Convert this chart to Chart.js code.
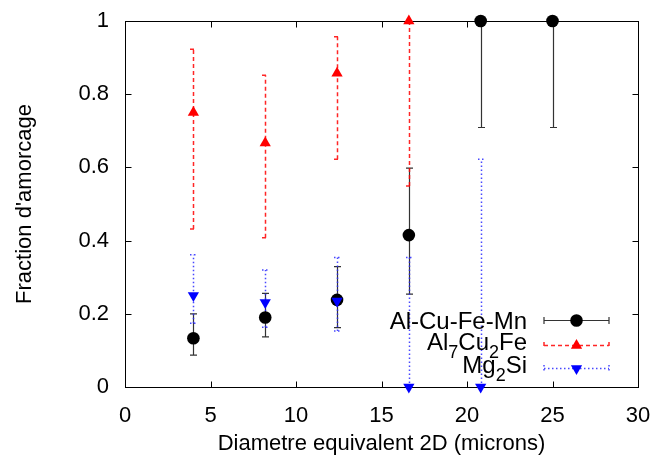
<!DOCTYPE html>
<html><head><meta charset="utf-8">
<script src="https://cdn.jsdelivr.net/npm/chart.js@4/dist/chart.umd.min.js"></script>
<style>html,body{margin:0;padding:0;background:#fff}#wrap{width:654px;height:462px}</style>
</head><body><div id="wrap"><canvas id="c" width="654" height="462"></canvas></div>
<script>
// ---- data ----
const xTickValues = [0, 5, 10, 15, 20, 25, 30];
const xTickLabels = ['0', '5', '10', '15', '20', '25', '30'];
const yTickValues = [0, 0.2, 0.4, 0.6, 0.8, 1];
const yTickLabels = ['0', '0.2', '0.4', '0.6', '0.8', '1'];
const xTitle = 'Diametre equivalent 2D (microns)';
const yTitle = "Fraction d'amorcage";
const seriesNames = ['Al-Cu-Fe-Mn', 'Al_7Cu_2Fe', 'Mg_2Si'];

const mnDiam = [4, 8.2, 12.4, 16.6, 20.8, 25];
const mnFrac = [0.133, 0.19, 0.238, 0.415, 1, 1];
const mnLow  = [0.087, 0.137, 0.162, 0.254, 0.709, 0.709];
const mnHigh = [0.2, 0.256, 0.329, 0.598, 1, 1];

const cuDiam = [4, 8.2, 12.4, 16.6];
const cuFrac = [0.75, 0.667, 0.857, 1];
const cuLow  = [0.432, 0.408, 0.622, 0.549];
const cuHigh = [0.923, 0.852, 0.957, 1];

const mgDiam = [4, 8.2, 12.4, 16.6, 20.8];
const mgFrac = [0.25, 0.231, 0.235, 0, 0];
const mgLow  = [0.174, 0.163, 0.153, 0, 0];
const mgHigh = [0.361, 0.32, 0.354, 0.354, 0.622];

// ---- chart ----
const FONT = "'Liberation Sans', Arial, sans-serif";
const toPts = (xs, ys) => xs.map((v, i) => ({x: v, y: ys[i]}));

const datasets = [
  {label: seriesNames[0], data: toPts(mnDiam, mnFrac), errLow: mnLow, errHigh: mnHigh,
   pointStyle: 'circle', pointRadius: 6.3, backgroundColor: '#000000', borderColor: '#000000', borderWidth: 0,
   errColor: '#333333', errWidth: 1.2, errDash: [], order: 3},
  {label: seriesNames[1], data: toPts(cuDiam, cuFrac), errLow: cuLow, errHigh: cuHigh,
   pointStyle: 'triangle', pointRadius: 6.5, backgroundColor: '#ff0000', borderColor: '#ff0000', borderWidth: 0,
   errColor: 'rgba(255,0,0,0.85)', errWidth: 1.5, errDash: [4, 3], order: 2},
  {label: seriesNames[2], data: toPts(mgDiam, mgFrac), errLow: mgLow, errHigh: mgHigh,
   pointStyle: 'triangle', rotation: 180, pointRadius: 6.5, backgroundColor: '#0000ff', borderColor: '#0000ff', borderWidth: 0,
   errColor: 'rgba(40,40,255,0.85)', errWidth: 1.5, errDash: [1.5, 2.5], order: 1}
];
datasets.forEach(d => { d.showLine = false; d.clip = false; d.pointHoverRadius = d.pointRadius; });

const CAP = 3.5;
function drawErr(ctx, px, yl, yh, cap) {
  ctx.beginPath();
  ctx.moveTo(px, yl); ctx.lineTo(px, yh);
  ctx.moveTo(px - cap, yl); ctx.lineTo(px + cap, yl);
  ctx.moveTo(px - cap, yh); ctx.lineTo(px + cap, yh);
  ctx.stroke();
}

const framePlugin = {
  id: 'frameAndErrors',
  beforeDatasetsDraw(chart) {
    const {ctx, chartArea: a, scales: {x, y}} = chart;
    ctx.save();
    ctx.strokeStyle = '#000'; ctx.lineWidth = 1; ctx.setLineDash([]);
    const L = Math.round(a.left) + 0.5, R = Math.round(a.right) + 0.5;
    const T = Math.round(a.top) + 0.5, B = Math.round(a.bottom) + 0.5;
    ctx.strokeRect(L, T, R - L, B - T);
    const TL = 6;
    ctx.beginPath();
    xTickValues.forEach(v => {
      const px = Math.round(x.getPixelForValue(v)) + 0.5;
      ctx.moveTo(px, B); ctx.lineTo(px, B - TL);
      ctx.moveTo(px, T); ctx.lineTo(px, T + TL);
    });
    yTickValues.forEach(v => {
      const py = Math.round(y.getPixelForValue(v)) + 0.5;
      ctx.moveTo(L, py); ctx.lineTo(L + TL, py);
      ctx.moveTo(R, py); ctx.lineTo(R - TL, py);
    });
    ctx.stroke();
    chart.data.datasets.forEach(ds => {
      ctx.strokeStyle = ds.errColor; ctx.setLineDash(ds.errDash); ctx.lineWidth = ds.errWidth;
      ds.data.forEach((p, i) => {
        const px = Math.round(x.getPixelForValue(p.x)) + 0.5;
        drawErr(ctx, px, y.getPixelForValue(ds.errLow[i]), y.getPixelForValue(ds.errHigh[i]), CAP);
      });
    });
    ctx.restore();
  },
  afterDraw(chart) {
    const {ctx, chartArea: a} = chart;
    ctx.save();
    const textRight = a.right - 111;
    const lineL = a.right - 94, lineR = a.right - 29, markX = (lineL + lineR) / 2;
    const rows = [a.top + 299, a.top + 324, a.top + 347];
    const baseOff = [9, 5, 4.6];
    const mainF = '24px ' + FONT, subF = '18px ' + FONT;
    chart.data.datasets.forEach((ds, i) => {
      const parts = [];
      const re = /_(\d)/g; let last = 0, m;
      const s = ds.label;
      while ((m = re.exec(s)) !== null) {
        if (m.index > last) parts.push([s.slice(last, m.index), 0]);
        parts.push([m[1], 1]); last = m.index + m[0].length;
      }
      if (last < s.length) parts.push([s.slice(last), 0]);
      let w = 0;
      parts.forEach(p => { ctx.font = p[1] ? subF : mainF; w += ctx.measureText(p[0]).width; });
      let cx = textRight - w;
      const base = rows[i] + baseOff[i];
      ctx.fillStyle = '#000'; ctx.textBaseline = 'alphabetic'; ctx.textAlign = 'left';
      parts.forEach(p => {
        ctx.font = p[1] ? subF : mainF;
        ctx.fillText(p[0], cx, p[1] ? base + 8 : base);
        cx += ctx.measureText(p[0]).width;
      });
      const ry = Math.round(rows[i]) + 0.5;
      ctx.strokeStyle = ds.errColor; ctx.setLineDash(ds.errDash); ctx.lineWidth = ds.errWidth;
      ctx.beginPath();
      ctx.moveTo(lineL, ry); ctx.lineTo(lineR, ry);
      ctx.moveTo(lineL, ry - CAP); ctx.lineTo(lineL, ry + CAP);
      ctx.moveTo(lineR, ry - CAP); ctx.lineTo(lineR, ry + CAP);
      ctx.stroke();
      ctx.setLineDash([]);
      ctx.fillStyle = ds.backgroundColor;
      ctx.strokeStyle = ds.borderColor;
      Chart.helpers.drawPoint(ctx, {pointStyle: ds.pointStyle, rotation: ds.rotation || 0,
        radius: ds.pointRadius, borderWidth: 0}, markX, ry);
    });
    ctx.restore();
  }
};

new Chart(document.getElementById('c'), {
  type: 'scatter',
  data: {datasets},
  options: {
    responsive: false, animation: false, devicePixelRatio: 1,
    layout: {padding: {top: 21, right: 16, left: 0, bottom: 0}},
    plugins: {legend: {display: false}, tooltip: {enabled: false}},
    scales: {
      x: {type: 'linear', min: 0, max: 30,
          afterBuildTicks: s => { s.ticks = xTickValues.map(v => ({value: v})); },
          afterFit: s => { s.height = 75; s.paddingLeft = 0; s.paddingRight = 0; },
          grid: {display: false, drawTicks: false}, border: {display: false},
          ticks: {color: '#000', font: {family: FONT, size: 22}, padding: 16, maxRotation: 0,
                  callback: (v, i) => xTickLabels[i]},
          title: {display: true, text: xTitle, color: '#000', font: {family: FONT, size: 22}, padding: {top: 0, bottom: 5}}},
      y: {type: 'linear', min: 0, max: 1,
          afterBuildTicks: s => { s.ticks = yTickValues.map(v => ({value: v})); },
          afterFit: s => { s.width = 125; s.paddingTop = 0; s.paddingBottom = 0; },
          grid: {display: false, drawTicks: false}, border: {display: false},
          ticks: {color: '#000', font: {family: FONT, size: 22}, padding: 16,
                  callback: (v, i) => yTickLabels[i]},
          title: {display: true, text: yTitle, color: '#000', font: {family: FONT, size: 22}, padding: {top: 12, bottom: 0}}}
    }
  },
  plugins: [framePlugin]
});
</script></body></html>
